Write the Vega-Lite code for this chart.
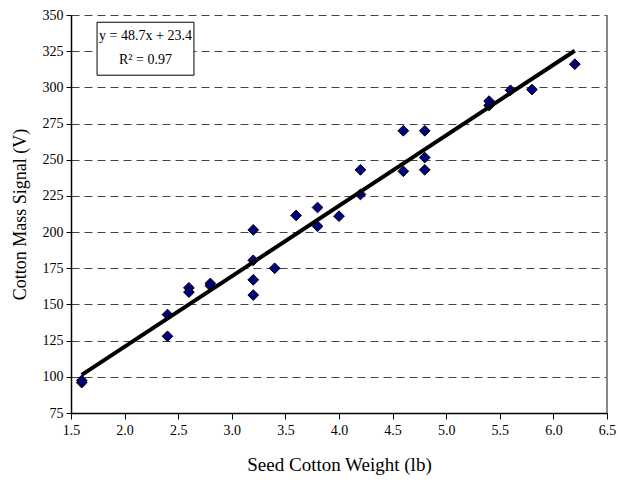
{
  "$schema": "https://vega.github.io/schema/vega-lite/v6.json",
  "autosize": "none",
  "width": 536,
  "height": 398,
  "padding": {"left": 71, "top": 15, "right": 11, "bottom": 69},
  "background": "white",
  "config": {
    "view": {"stroke": null},
    "font": "Liberation Serif",
    "axis": {"labelFont": "Liberation Serif", "titleFont": "Liberation Serif"},
    "text": {"font": "Liberation Serif"}
  },
  "datasets": {
    "pts": [
      {"w": 1.6, "s": 96}, {"w": 1.6, "s": 97.5},
      {"w": 2.4, "s": 143}, {"w": 2.4, "s": 128},
      {"w": 2.6, "s": 161.5}, {"w": 2.6, "s": 158.5},
      {"w": 2.8, "s": 164.5}, {"w": 2.8, "s": 163},
      {"w": 3.2, "s": 201.5}, {"w": 3.2, "s": 180.5}, {"w": 3.2, "s": 167}, {"w": 3.2, "s": 156.5},
      {"w": 3.4, "s": 175},
      {"w": 3.6, "s": 211.5},
      {"w": 3.8, "s": 217}, {"w": 3.8, "s": 204},
      {"w": 4.0, "s": 211},
      {"w": 4.2, "s": 243}, {"w": 4.2, "s": 226},
      {"w": 4.6, "s": 270}, {"w": 4.6, "s": 242},
      {"w": 4.8, "s": 270}, {"w": 4.8, "s": 251.5}, {"w": 4.8, "s": 243},
      {"w": 5.4, "s": 290.5}, {"w": 5.4, "s": 287.5},
      {"w": 5.6, "s": 298},
      {"w": 5.8, "s": 298.5},
      {"w": 6.2, "s": 316}
    ],
    "fit": [
      {"w": 1.6, "s": 101.3},
      {"w": 6.2, "s": 325.3}
    ],
    "box": [
      {"x1": 1.743, "x2": 2.647, "y1": 308.4, "y2": 345}
    ],
    "eq": [
      {"w": 2.195, "s": 335.6, "t": "y = 48.7x + 23.4"},
      {"w": 2.195, "s": 318.8, "t": "R² = 0.97"}
    ]
  },
  "layer": [
    {
      "data": {"name": "pts"},
      "mark": {"type": "point", "shape": "diamond", "filled": true, "fill": "#000080", "stroke": "black", "strokeWidth": 1, "size": 115, "opacity": 1},
      "encoding": {
        "x": {
          "field": "w", "type": "quantitative",
          "scale": {"domain": [1.5, 6.5], "nice": false, "zero": false},
          "axis": {
            "title": "Seed Cotton Weight (lb)",
            "values": [1.5, 2.0, 2.5, 3.0, 3.5, 4.0, 4.5, 5.0, 5.5, 6.0, 6.5],
            "tickCount": 11,
            "format": ".1f",
            "labelOverlap": false,
            "labelFlush": false,
            "grid": false,
            "domainColor": "black", "domainWidth": 1.5,
            "tickColor": "black", "tickSize": 6, "tickWidth": 1,
            "labelFont": "Liberation Serif", "labelFontSize": 14, "labelColor": "black", "labelPadding": 4,
            "titleFont": "Liberation Serif", "titleFontSize": 19, "titleFontWeight": "normal", "titleColor": "black", "titlePadding": 18
          }
        },
        "y": {
          "field": "s", "type": "quantitative",
          "scale": {"domain": [75, 350], "nice": false, "zero": false},
          "axis": {
            "title": "Cotton Mass Signal (V)",
            "values": [75, 100, 125, 150, 175, 200, 225, 250, 275, 300, 325, 350],
            "tickCount": 12,
            "labelOverlap": false,
            "labelFlush": false,
            "grid": true, "gridColor": "#444", "gridDash": [8, 5], "gridWidth": 1,
            "domainColor": "black", "domainWidth": 1.5,
            "tickColor": "black", "tickSize": 5, "tickWidth": 1,
            "labelFont": "Liberation Serif", "labelFontSize": 14, "labelColor": "black", "labelPadding": 3,
            "titleFont": "Liberation Serif", "titleFontSize": 18, "titleFontWeight": "normal", "titleColor": "black", "titlePadding": 13
          }
        }
      }
    },
    {
      "data": {"name": "fit"},
      "mark": {"type": "line", "color": "black", "strokeWidth": 4},
      "encoding": {
        "x": {"field": "w", "type": "quantitative"},
        "y": {"field": "s", "type": "quantitative"}
      }
    },
    {
      "data": {"name": "fit"},
      "mark": {"type": "rule", "color": "#808080", "strokeWidth": 1.5},
      "encoding": {
        "x": {"datum": 6.5},
        "y": {"datum": 75},
        "y2": {"datum": 350}
      }
    },
    {
      "data": {"name": "box"},
      "mark": {"type": "rect", "fill": "white", "stroke": "black", "strokeWidth": 1},
      "encoding": {
        "x": {"field": "x1", "type": "quantitative"},
        "x2": {"field": "x2"},
        "y": {"field": "y1", "type": "quantitative"},
        "y2": {"field": "y2"}
      }
    },
    {
      "data": {"name": "eq"},
      "mark": {"type": "text", "font": "Liberation Serif", "fontSize": 14, "color": "black", "align": "center", "baseline": "middle"},
      "encoding": {
        "x": {"field": "w", "type": "quantitative"},
        "y": {"field": "s", "type": "quantitative"},
        "text": {"field": "t"}
      }
    }
  ]
}
